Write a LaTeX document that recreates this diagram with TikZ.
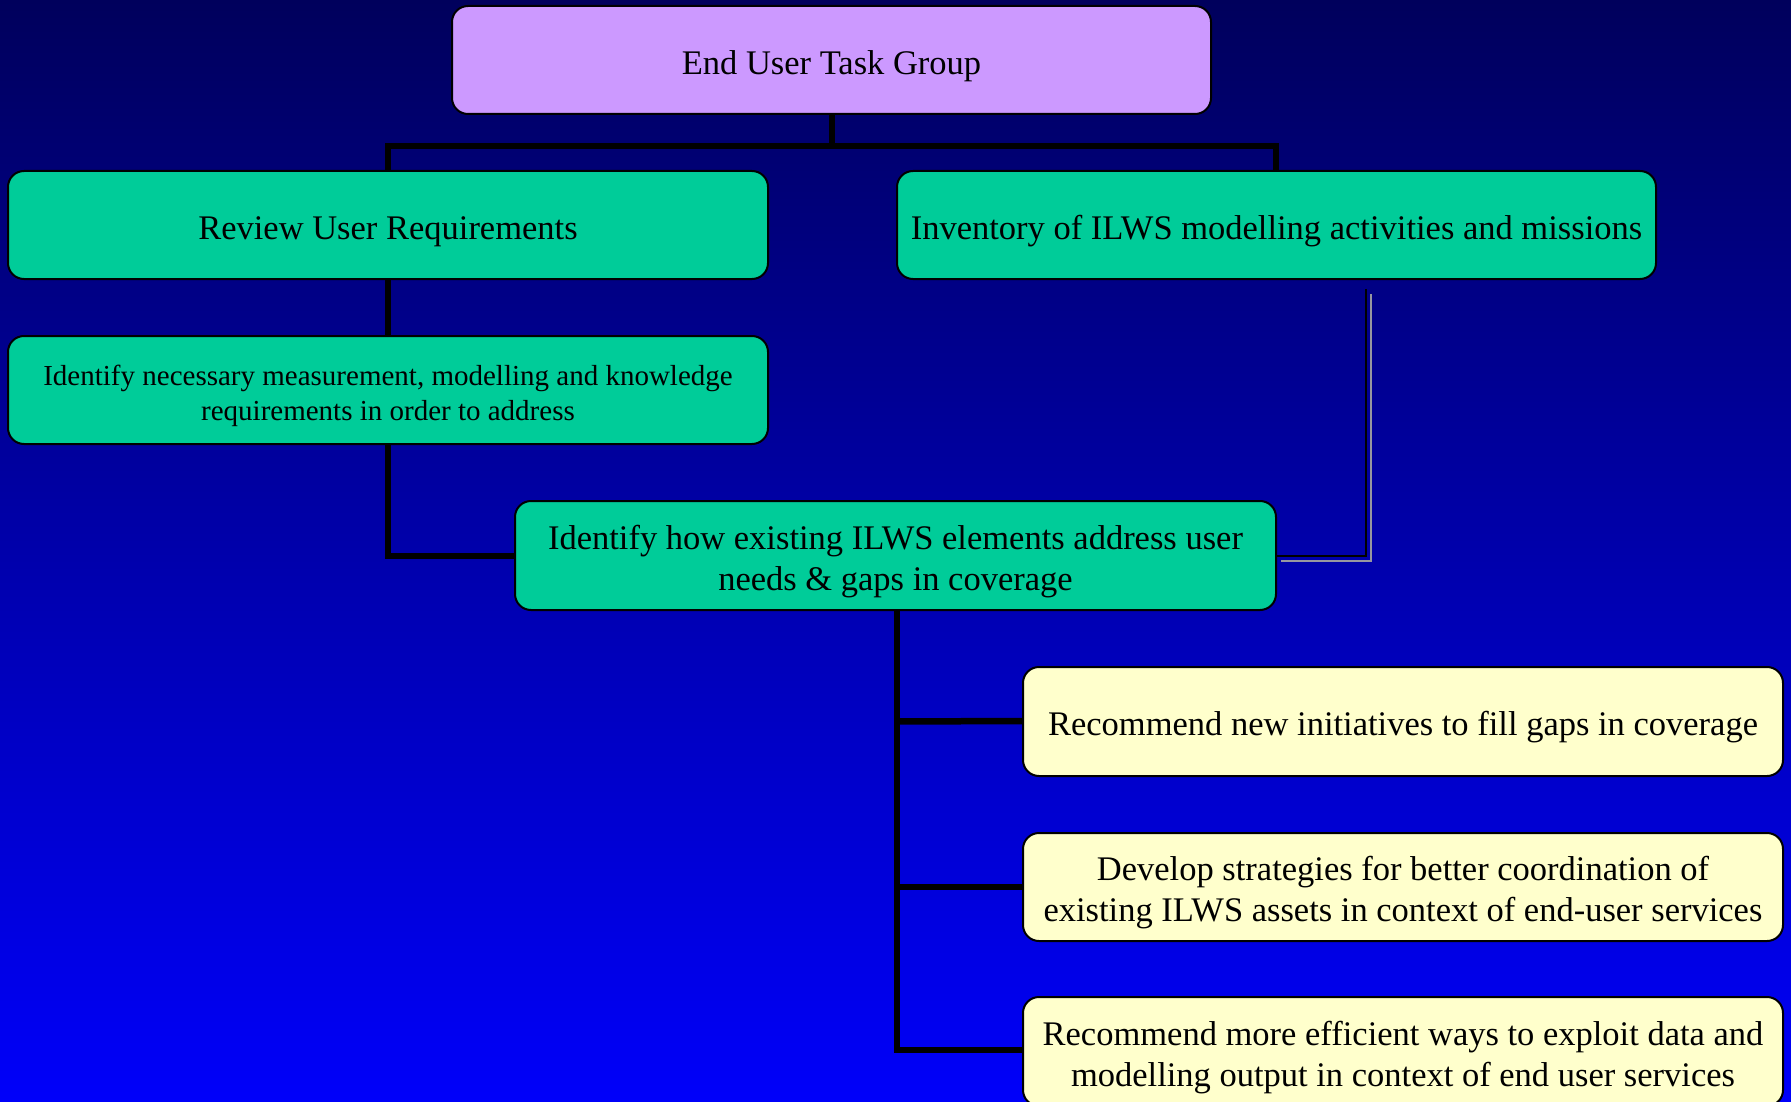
\documentclass[tikz,border=0pt]{standalone}
\usepackage{fontspec}
\setmainfont{Liberation Serif}
\definecolor{bgtop}{RGB}{0,0,92}
\definecolor{bgbot}{RGB}{0,0,250}
\definecolor{purp}{HTML}{CC99FF}
\definecolor{teal}{HTML}{00CC99}
\definecolor{cream}{HTML}{FFFFCC}
\definecolor{shadowgray}{RGB}{150,150,160}
\newcommand\boxtext[1]{\raisebox{-6pt}[\height][\depth]{\begin{tabular}{@{}c@{}}#1\end{tabular}}}
\tikzset{
  box/.style={draw=black, line width=2pt, rounded corners=16pt, minimum width=760pt,
    minimum height=108pt, inner sep=0pt,
    font=\fontsize{34.5}{41}\selectfont},
  smallbox/.style={box, font=\fontsize{29}{35}\selectfont},
  link/.style={draw=black, line width=6.5pt},
  thinlink/.style={draw=black, line width=1.6pt},
  shadowlink/.style={draw=shadowgray, line width=1.6pt}
}
\begin{document}
\begin{tikzpicture}[x=1pt,y=-1pt]
\useasboundingbox (0,0) rectangle (1791,1102);
\shade[top color=bgtop, bottom color=bgbot] (0,0) rectangle (1791,1102);

% coordinates
\coordinate (ib) at (1366,289);
\coordinate (ic) at (1366,556);
\coordinate (sb) at (1371,294);
\coordinate (sc) at (1371,561);
\coordinate (se) at (1281,561);
\coordinate (bar) at (832,146);
\coordinate (barl) at (388,146);
\coordinate (barr) at (1276,146);
\coordinate (lc) at (388,556);
\coordinate (bc) at (897,1050);

% nodes
\node[box, fill=purp, minimum width=759pt] (top) at (831.5,60) {\boxtext{End User Task Group}};
\node[box, fill=teal] (rev) at (388,225) {\boxtext{Review User Requirements}};
\node[box, fill=teal, minimum width=759pt] (inv) at (1276.5,225) {\boxtext{Inventory of ILWS modelling activities and missions}};
\node[smallbox, fill=teal] (nec) at (388,390) {\boxtext{Identify necessary measurement, modelling and knowledge\\requirements in order to address}};
\node[box, fill=teal, minimum width=761pt, minimum height=109pt] (how) at (895.5,555.5) {\boxtext{Identify how existing ILWS elements address user\\needs \& gaps in coverage}};
\node[box, fill=cream, minimum height=109pt] (rec1) at (1403,721.5) {\boxtext{Recommend new initiatives to fill gaps in coverage}};
\node[box, fill=cream] (dev) at (1403,887) {\boxtext{Develop strategies for better coordination of\\existing ILWS assets in context of end-user services}};
\node[box, fill=cream, minimum height=109pt] (rec2) at (1403,1051.5) {\boxtext{Recommend more efficient ways to exploit data and\\modelling output in context of end user services}};

% connectors
\draw[link] (top.south -| bar) -- (bar);
\draw[link] (rev.north -| barl) -- (barl) -- (barr) -- (inv.north -| barr);
\draw[link] (rev.south) -- (nec.north);
\draw[link] (nec.south) -- (lc) -- (how.west |- lc);
\draw[link] (how.south -| bc) -- (bc) -- (rec2.west |- bc);
\draw[link] (bc |- rec1.west) -- (rec1.west |- 0,721);
\draw[link] (bc |- dev.west) -- (dev.west);
\draw[shadowlink] (sb) -- (sc) -- (se);
\draw[thinlink] (ib) -- (ic) -- (how.east |- ic);
\end{tikzpicture}
\end{document}
